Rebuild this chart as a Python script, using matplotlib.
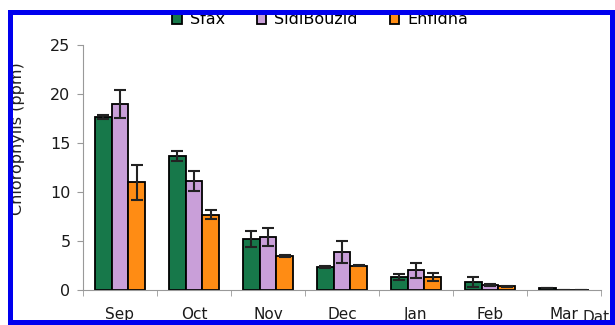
# chlorophyll content by month for the three sites, grouped bars with error bars
import matplotlib
matplotlib.use('Agg')
import matplotlib.pyplot as plt
from matplotlib.patches import Rectangle
import numpy as np

months = ['Sep', 'Oct', 'Nov', 'Dec', 'Jan', 'Feb', 'Mar']
sites = ['Sfax', 'SidiBouzid', 'Enfidha']

sfax = [17.7, 13.7, 5.2, 2.3, 1.3, 0.8, 0.25]
sfax_err = [0.2, 0.5, 0.8, 0.1, 0.3, 0.5, 0.0]
sidi = [19.0, 11.1, 5.4, 3.9, 2.0, 0.5, 0.0]
sidi_err = [1.4, 1.0, 0.9, 1.1, 0.8, 0.1, 0.0]
enfidha = [11.0, 7.7, 3.5, 2.5, 1.3, 0.4, 0.0]
enfidha_err = [1.8, 0.5, 0.1, 0.1, 0.4, 0.05, 0.0]

bar_colors = ['#17784a', '#c99fd9', '#ff8c14']

plt.rcParams['font.family'] = ['DejaVu Sans']

fig = plt.figure(figsize=(6.15, 3.25), dpi=100)
ax = fig.add_axes([83 / 615, 1 - 290 / 325, 518 / 615, 245 / 325])

x = np.arange(len(months))
width = 0.225
series = [(sfax, sfax_err), (sidi, sidi_err), (enfidha, enfidha_err)]
for i, (vals, errs) in enumerate(series):
    ax.bar(x + (i - 1) * width, vals, width, yerr=errs,
           color=bar_colors[i], edgecolor='black', linewidth=1.3,
           label=sites[i], capsize=4.5,
           error_kw=dict(elinewidth=1.5, capthick=1.5, ecolor='#222222'))

ax.set_xlim(-0.5, len(months) - 0.5)
ax.set_ylim(0, 25)
ax.set_yticks([0, 5, 10, 15, 20, 25])
ax.set_xticks(x)
ax.set_xticklabels(months)
ax.set_xticks(np.arange(-0.5, len(months)), minor=True)
ax.tick_params(axis='x', which='major', length=0, pad=12, labelsize=11,
               labelcolor='#1a1a1a')
ax.tick_params(axis='x', which='minor', length=4, color='#999999')
ax.tick_params(axis='y', length=4, color='#999999', labelsize=11.5, pad=5,
               labelcolor='#1a1a1a')

for side in ['top', 'right']:
    ax.spines[side].set_visible(False)
for side in ['left', 'bottom']:
    ax.spines[side].set_color('#999999')
    ax.spines[side].set_linewidth(0.8)

fig.text(18 / 615, 1 - 139 / 325, 'Chlorophylls (ppm)', rotation=90,
         ha='center', va='center', fontsize=11.5, color='#222222')
fig.text(583 / 615, 1 - 318 / 325, 'Date', ha='left', va='center',
         fontsize=11, color='#222222')

handles, labels = ax.get_legend_handles_labels()
fig.legend(handles, labels, loc='center', bbox_to_anchor=(320 / 615, 1 - 20 / 325),
           ncol=3, frameon=False, fontsize=11.5, handlelength=0.6, handleheight=0.6,
           handletextpad=0.5, columnspacing=2.0)

# blue frame around the whole graphic
frame = '#0000ee'
for rect in [(8 / 615, 1 - 15 / 325, 1, 5 / 325),          # top
             (8 / 615, 0, 5 / 615, 1 - 10 / 325),          # left
             (610 / 615, 0, 5 / 615, 1 - 10 / 325),        # right
             (8 / 615, 0, 1, 5 / 325)]:                    # bottom
    fig.patches.append(Rectangle(rect[:2], rect[2], rect[3], transform=fig.transFigure,
                                 facecolor=frame, edgecolor='none', zorder=10))

fig.savefig('out.png', dpi=100)
